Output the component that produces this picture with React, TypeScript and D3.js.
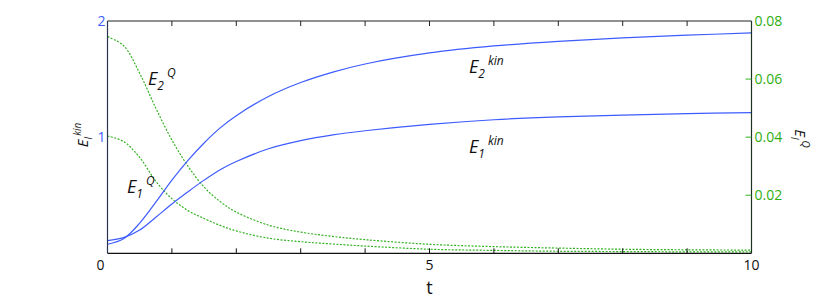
import React from "react";
import * as d3 from "d3";

const tVals = [0, 0.25, 0.5, 0.75, 1, 1.25, 1.5, 1.75, 2, 2.5, 3, 3.5, 4, 5, 6, 7, 8, 9, 10];
const e2Kin = [0.078, 0.125, 0.26, 0.44, 0.63, 0.8, 0.95, 1.08, 1.185, 1.35, 1.47, 1.56, 1.63, 1.725, 1.785, 1.825, 1.855, 1.878, 1.897];
const e1Kin = [0.109, 0.135, 0.2, 0.31, 0.425, 0.53, 0.63, 0.72, 0.79, 0.9, 0.97, 1.02, 1.055, 1.11, 1.15, 1.175, 1.19, 1.202, 1.212];
const e2Q = [0.0746, 0.0715, 0.062, 0.05, 0.039, 0.03, 0.0228, 0.0178, 0.0142, 0.0097, 0.0073, 0.0058, 0.0047, 0.0031, 0.0023, 0.0018, 0.0014, 0.0012, 0.0011];
const e1Q = [0.0404, 0.0385, 0.033, 0.0248, 0.0188, 0.0147, 0.012, 0.0096, 0.0077, 0.0052, 0.004, 0.0032, 0.0025, 0.0014, 0.001, 0.0007, 0.0006, 0.0005, 0.0005];

const xTickLabels = [0, 5, 10];
const xMinorTicks = [1, 2, 3, 4, 5, 6, 7, 8, 9];
const leftTicks = [1, 2];
const rightTicks = [0.02, 0.04, 0.06, 0.08];

const W = 830, H = 299;
const L = 107.5, R = 751.5, T = 21, B = 253.3;
const FONT = "'Open Sans', 'Noto Sans', sans-serif";
const BLUE = "#3d5cff";
const GREEN = "#33b322";
const GREEN_TXT = "#2fae12";

export default function App() {
  const x = d3.scaleLinear().domain([0, 10]).range([L, R]);
  const yL = d3.scaleLinear().domain([0, 2]).range([B, T]);
  const yR = d3.scaleLinear().domain([0, 0.08]).range([B, T]);

  const curve = d3.curveCatmullRom.alpha(0.5);
  const lineL = (vals: number[]) =>
    d3.line<number>().x((_, i) => x(tVals[i])).y((v) => yL(v)).curve(curve)(vals) || "";
  const lineR = (vals: number[]) =>
    d3.line<number>().x((_, i) => x(tVals[i])).y((v) => yR(v)).curve(curve)(vals) || "";

  const label = (px: number, py: number, sub: string, sup: string) => (
    <text x={px} y={py} fontFamily={FONT} fontStyle="italic" fill="#111">
      <tspan fontSize={18}>E</tspan>
      <tspan fontSize={12} dy={5}>{sub}</tspan>
      <tspan fontSize={12} dy={-13} dx={3}>{sup}</tspan>
    </text>
  );

  return (
    <svg width={W} height={H} style={{ position: "absolute", left: 0, top: 0 }}>
      <rect width={W} height={H} fill="#fff" />
      <path d={lineR(e2Q)} fill="none" stroke={GREEN} strokeWidth={1.2} strokeDasharray="2,1.5" />
      <path d={lineR(e1Q)} fill="none" stroke={GREEN} strokeWidth={1.2} strokeDasharray="2,1.5" />
      <path d={lineL(e2Kin)} fill="none" stroke={BLUE} strokeWidth={1.2} />
      <path d={lineL(e1Kin)} fill="none" stroke={BLUE} strokeWidth={1.2} />

      {/* frame */}
      <line x1={L} x2={R} y1={T} y2={T} stroke="#222" strokeWidth={1.2} />
      <line x1={L} x2={R} y1={B} y2={B} stroke="#111" strokeWidth={1.2} />
      <line x1={L} x2={L} y1={T} y2={B} stroke="#2a3350" strokeWidth={1.2} />
      <line x1={R} x2={R} y1={T} y2={B} stroke="#1d3320" strokeWidth={1.2} />

      {xMinorTicks.map((t) => (
        <g key={t}>
          <line x1={x(t)} x2={x(t)} y1={T} y2={T + 5} stroke="#222" strokeWidth={1} />
          <line x1={x(t)} x2={x(t)} y1={B} y2={B - 5} stroke="#111" strokeWidth={1} />
        </g>
      ))}
      {xTickLabels.map((t) => (
        <text key={t} x={x(t) - (t === 0 ? 7 : 0)} y={B + 17} textAnchor="middle" fontFamily={FONT} fontSize={14} fill="#111">
          {t}
        </text>
      ))}
      <text x={x(5)} y={B + 41} textAnchor="middle" fontFamily={FONT} fontSize={18} fill="#111">t</text>

      {leftTicks.map((v) => (
        <text key={v} x={L - 2} y={yL(v) + 5} textAnchor="end" fontFamily={FONT} fontSize={14} fill={BLUE}>
          {v}
        </text>
      ))}
      {rightTicks.map((v) => (
        <g key={v}>
          {v < 0.08 && <line x1={R - 6} x2={R} y1={yR(v)} y2={yR(v)} stroke={GREEN} strokeWidth={1} />}
          <text x={R + 3} y={yR(v) + 5} fontFamily={FONT} fontSize={14} fill={GREEN_TXT}>
            {d3.format(".2f")(v)}
          </text>
        </g>
      ))}

      {/* axis titles */}
      <g transform={`translate(88,${yL(1) + 10}) rotate(-90)`}>
        <text fontFamily={FONT} fontStyle="italic" fill="#111">
          <tspan fontSize={15}>E</tspan>
          <tspan fontSize={10} dy={4}>l</tspan>
          <tspan fontSize={10} dy={-11} dx={1}>kin</tspan>
        </text>
      </g>
      <g transform={`translate(795,${yR(0.04) - 8}) rotate(90)`}>
        <text fontFamily={FONT} fontStyle="italic" fill="#111">
          <tspan fontSize={15}>E</tspan>
          <tspan fontSize={10} dy={4}>l</tspan>
          <tspan fontSize={10} dy={-11} dx={1}>Q</tspan>
        </text>
      </g>

      {label(148, 85, "2", "Q")}
      {label(127, 193, "1", "Q")}
      {label(469, 73, "2", "kin")}
      {label(469, 153, "1", "kin")}
    </svg>
  );
}
